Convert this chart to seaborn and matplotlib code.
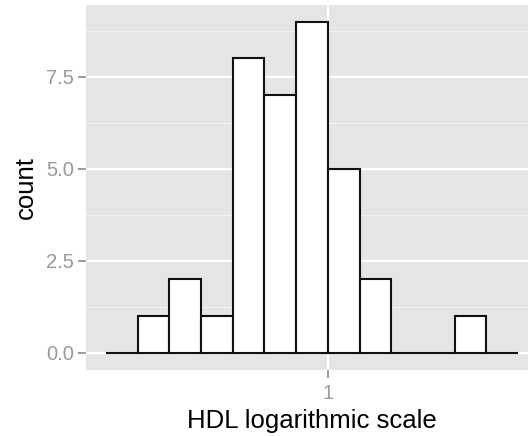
import numpy as np
import pandas as pd
import matplotlib
matplotlib.use("Agg")
import matplotlib.pyplot as plt
import seaborn as sns

# Histogram data (log10 of HDL), bin edges in log10 units
bin_edges_log = [-0.35, -0.30, -0.25, -0.20, -0.15, -0.10, -0.05, 0.00,
                 0.05, 0.10, 0.15, 0.20, 0.25, 0.30]
counts = [0, 1, 2, 1, 8, 7, 9, 5, 2, 0, 0, 1, 0]
y_ticks = [0.0, 2.5, 5.0, 7.5]
y_tick_labels = ["0.0", "2.5", "5.0", "7.5"]
x_tick_values = [1]
x_tick_labels = ["1"]

edges = np.array(bin_edges_log)
mids = (edges[:-1] + edges[1:]) / 2
df = pd.DataFrame({"loghdl": mids, "n": counts})

sns.set_style("white")
plt.rcParams["font.family"] = ["Liberation Sans", "DejaVu Sans"]

W, H = 528, 436
fig = plt.figure(figsize=(W / 100, H / 100), dpi=100)
left, right, top, bottom = 85.5, 538.5, 5, 369.5
ax = fig.add_axes([left / W, (H - bottom) / H, (right - left) / W, (bottom - top) / H])
ax.set_facecolor("#E5E5E5")

binwidth = edges[1] - edges[0]
sns.histplot(data=df, x="loghdl", weights="n", binwidth=binwidth,
             binrange=(edges[0], edges[-1]), stat="count",
             color="white", edgecolor="#111111", linewidth=1.5, alpha=1,
             ax=ax, zorder=3)

span = edges[-1] - edges[0]
ax.set_xlim(edges[0] - 0.05 * span, edges[-1] + 0.05 * span)
ymax = max(counts)
ax.set_ylim(-0.05 * ymax, ymax * 1.05)

# gridlines
for v in [1.25, 3.75, 6.25, 8.75]:
    ax.axhline(v, color="#F2F2F2", lw=0.9, zorder=1)
for v in y_ticks:
    ax.axhline(v, color="white", lw=1.6, zorder=1)
for v in x_tick_values:
    ax.axvline(np.log10(v), color="white", lw=1.6, zorder=1)

ax.set_yticks(y_ticks)
ax.set_yticklabels(y_tick_labels)
ax.set_xticks([np.log10(v) for v in x_tick_values])
ax.set_xticklabels(x_tick_labels)
ax.tick_params(axis="both", which="major", length=5.5, width=1.1, color="#7F7F7F",
               labelcolor="#999999", labelsize=14.5, pad=3, direction="out",
               left=True, bottom=True)
ax.tick_params(axis="x", pad=5)
for s in ax.spines.values():
    s.set_visible(False)
ax.grid(False)

ax.set_xlabel("HDL logarithmic scale", fontsize=18.5, color="black", labelpad=4)
ax.set_ylabel("count", fontsize=18.5, color="black", labelpad=6)

fig.savefig("out.png", dpi=100)
